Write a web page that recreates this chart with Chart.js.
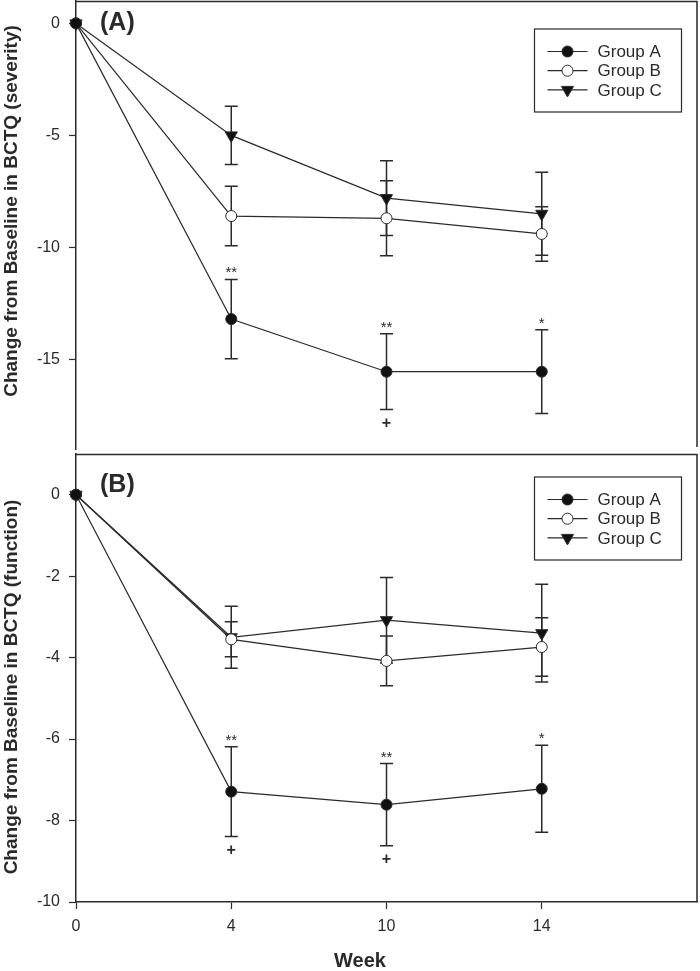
<!DOCTYPE html>
<html>
<head>
<meta charset="utf-8">
<script src="https://cdn.jsdelivr.net/npm/chart.js@4.4.1/dist/chart.umd.min.js"></script>
<style>
  body { margin: 0; background: #fff; }
  #wrapA { position: absolute; left: 0; top: 0; width: 700px; height: 452px; }
  #wrapB { position: absolute; left: 0; top: 452px; width: 700px; height: 519px; }
</style>
</head>
<body>
<div id="wrapA"><canvas id="chartA" width="700" height="452"></canvas></div>
<div id="wrapB"><canvas id="chartB" width="700" height="519"></canvas></div>
<script>
/* --------------- Data --------------- */
const weeks = ['0', '4', '10', '14', ''];
const groups = ['Group A', 'Group B', 'Group C'];

// (A) severity
const sevA = [0, -13.2, -15.55, -15.55];
const sevAErr = [0, 1.77, 1.69, 1.87];
const sevB = [0, -8.6, -8.7, -9.4];
const sevBErr = [0, 1.33, 1.67, 1.22];
const sevC = [0, -5.0, -7.8, -8.5];
const sevCErr = [0, 1.3, 1.67, 1.85];
const sevStars = ['', '**', '**', '*'];
const sevPlus = ['', '', '+', ''];
const sevTicks = [0, -5, -10, -15];

// (B) function
const funA = [0, -7.29, -7.61, -7.22];
const funAErr = [0, 1.1, 1.01, 1.07];
const funB = [0, -3.55, -4.08, -3.74];
const funBErr = [0, 0.43, 0.61, 0.72];
const funC = [0, -3.5, -3.08, -3.4];
const funCErr = [0, 0.76, 1.05, 1.2];
const funStars = ['', '**', '**', '*'];
const funPlus = ['', '+', '+', ''];
const funTicks = [0, -2, -4, -6, -8, -10];

/* --------------- Styles --------------- */
const FONT = "'Liberation Sans', Arial, sans-serif";
const INK = '#2a2a2a';
const markers = [
  { pointStyle: 'circle', radius: 5.5, rotation: 0, fill: '#111' },
  { pointStyle: 'circle', radius: 5.5, rotation: 0, fill: '#fff' },
  { pointStyle: 'triangle', radius: 7, rotation: 180, fill: '#111' },
];

function makeSets(vals, errs) {
  return vals.map((v, i) => ({
    label: groups[i],
    data: v,
    err: errs[i],
    borderColor: INK,
    borderWidth: 1.2,
    pointStyle: markers[i].pointStyle,
    pointRotation: markers[i].rotation,
    pointRadius: markers[i].radius,
    pointBackgroundColor: markers[i].fill,
    pointBorderColor: INK,
    pointBorderWidth: 1,
    tension: 0,
    clip: false,
  }));
}

/* --------------- Error bars, notes, frame, legend --------------- */
const panelPlugin = {
  id: 'panel',
  beforeDatasetsDraw(chart) {
    const ctx = chart.ctx;
    const y = chart.scales.y;
    ctx.save();
    ctx.strokeStyle = INK;
    ctx.lineWidth = 1.5;
    chart.data.datasets.forEach((ds, i) => {
      const meta = chart.getDatasetMeta(i);
      ds.data.forEach((v, j) => {
        const e = ds.err[j];
        if (!e) return;
        const x = meta.data[j].x;
        const yt = y.getPixelForValue(v + e);
        const yb = y.getPixelForValue(v - e);
        ctx.beginPath();
        ctx.moveTo(x, yt); ctx.lineTo(x, yb);
        ctx.moveTo(x - 6.5, yt); ctx.lineTo(x + 6.5, yt);
        ctx.moveTo(x - 6.5, yb); ctx.lineTo(x + 6.5, yb);
        ctx.stroke();
      });
    });
    ctx.restore();
  },
  afterDatasetsDraw(chart, args, opts) {
    const ctx = chart.ctx;
    const y = chart.scales.y;
    const ds = chart.data.datasets[0];
    const meta = chart.getDatasetMeta(0);
    ctx.save();
    ctx.fillStyle = INK;
    ctx.textAlign = 'center';
    ds.data.forEach((v, j) => {
      const x = meta.data[j].x;
      const yt = y.getPixelForValue(v + ds.err[j]);
      const yb = y.getPixelForValue(v - ds.err[j]);
      if (opts.stars[j]) {
        ctx.font = '15px ' + FONT;
        ctx.textBaseline = 'alphabetic';
        ctx.fillText(opts.stars[j], x, yt - 2);
      }
      if (opts.plus[j]) {
        ctx.font = 'bold 16px ' + FONT;
        ctx.textBaseline = 'middle';
        ctx.fillText(opts.plus[j], x, yb + 14);
      }
    });
    ctx.restore();
  },
  afterDraw(chart, args, opts) {
    const ctx = chart.ctx;
    const a = chart.chartArea;
    ctx.save();
    // top and right frame
    ctx.strokeStyle = INK;
    ctx.lineWidth = 1.5;
    ctx.beginPath();
    ctx.moveTo(a.left, a.top + 0.5);
    ctx.lineTo(a.right, a.top + 0.5);
    ctx.lineTo(a.right, a.bottom - opts.rightGap);
    ctx.stroke();

    // legend box
    const bw = 147, bh = 83;
    const bx = a.right - 15.5 - bw;
    const by = a.top + opts.legendTop;
    ctx.lineWidth = 1.2;
    ctx.strokeRect(bx, by, bw, bh);
    chart.data.datasets.forEach((ds, i) => {
      const ly = by + 22.5 + i * 19.2;
      ctx.beginPath();
      ctx.lineWidth = 1.2;
      ctx.moveTo(bx + 13, ly); ctx.lineTo(bx + 53, ly);
      ctx.stroke();
      ctx.fillStyle = markers[i].fill;
      ctx.lineWidth = 1;
      Chart.helpers.drawPoint(ctx, {
        pointStyle: markers[i].pointStyle,
        radius: markers[i].radius,
        rotation: markers[i].rotation,
        borderWidth: 1,
      }, bx + 33, ly);
      ctx.fillStyle = INK;
      ctx.font = '17px ' + FONT;
      ctx.textAlign = 'left';
      ctx.textBaseline = 'middle';
      ctx.fillText(ds.label, bx + 63, ly + 1);
    });

    // panel letter
    ctx.fillStyle = INK;
    ctx.font = 'bold 25px ' + FONT;
    ctx.textAlign = 'left';
    ctx.textBaseline = 'middle';
    ctx.fillText(opts.letter, 100, opts.letterY);

    // x title (only on the lower panel)
    if (opts.xTitle) {
      ctx.font = 'bold 20px ' + FONT;
      ctx.textAlign = 'center';
      ctx.fillText(opts.xTitle, 360, chart.height - 10);
    }

    // y title
    ctx.translate(11.5, opts.titleY);
    ctx.rotate(-Math.PI / 2);
    ctx.font = 'bold 19px ' + FONT;
    ctx.textAlign = 'center';
    ctx.textBaseline = 'middle';
    ctx.fillText(opts.title, 0, 0);
    ctx.restore();
  },
};

function yScale(min, max, ticks) {
  return {
    min: min,
    max: max,
    afterBuildTicks: (s) => { s.ticks = ticks.map((v) => ({ value: v })); },
    afterFit: (s) => { s.width = 76; s.paddingTop = 0; s.paddingBottom = 0; },
    border: { display: true, color: INK, width: 1.5 },
    grid: { drawOnChartArea: false, drawTicks: true, tickLength: 7, color: INK, tickWidth: 1.2 },
    ticks: { color: INK, padding: 9, font: { family: FONT, size: 16 } },
    title: { display: false },
  };
}

/* --------------- Chart (A) --------------- */
new Chart(document.getElementById('chartA'), {
  type: 'line',
  data: { labels: weeks, datasets: makeSets([sevA, sevB, sevC], [sevAErr, sevBErr, sevCErr]) },
  plugins: [panelPlugin],
  options: {
    responsive: false,
    animation: false,
    events: [],
    layout: { autoPadding: false, padding: { top: 1, right: 3, bottom: 3, left: 0 } },
    scales: {
      x: {
        type: 'category', display: false, offset: false,
        afterFit: (s) => { s.paddingLeft = 0; s.paddingRight = 0; },
      },
      y: yScale(-19, 1, sevTicks),
    },
    plugins: {
      legend: { display: false },
      tooltip: { enabled: false },
      panel: {
        stars: sevStars, plus: sevPlus, letter: '(A)', letterY: 23,
        title: 'Change from Baseline in BCTQ (severity)', titleY: 211,
        legendTop: 28, rightGap: 2, xTitle: '',
      },
    },
  },
});

/* --------------- Chart (B) --------------- */
new Chart(document.getElementById('chartB'), {
  type: 'line',
  data: { labels: weeks, datasets: makeSets([funA, funB, funC], [funAErr, funBErr, funCErr]) },
  plugins: [panelPlugin],
  options: {
    responsive: false,
    animation: false,
    events: [],
    layout: { autoPadding: false, padding: { top: 2, right: 3, bottom: 0, left: 0 } },
    scales: {
      x: {
        type: 'category',
        offset: false,
        afterFit: (s) => { s.height = 69; s.paddingLeft = 0; s.paddingRight = 0; },
        border: { display: true, color: INK, width: 1.5 },
        grid: {
          drawOnChartArea: false, drawTicks: true, tickLength: 7, tickWidth: 1.2,
          tickColor: (c) => (c.index === 4 ? 'rgba(0,0,0,0)' : INK),
        },
        ticks: { color: INK, padding: 8, maxRotation: 0, autoSkip: false, font: { family: FONT, size: 16 } },
        title: { display: false },
      },
      y: yScale(-10, 1, funTicks),
    },
    plugins: {
      legend: { display: false },
      tooltip: { enabled: false },
      panel: {
        stars: funStars, plus: funPlus, letter: '(B)', letterY: 33,
        title: 'Change from Baseline in BCTQ (function)', titleY: 235,
        legendTop: 23, rightGap: 0, xTitle: 'Week',
      },
    },
  },
});
</script>
</body>
</html>
